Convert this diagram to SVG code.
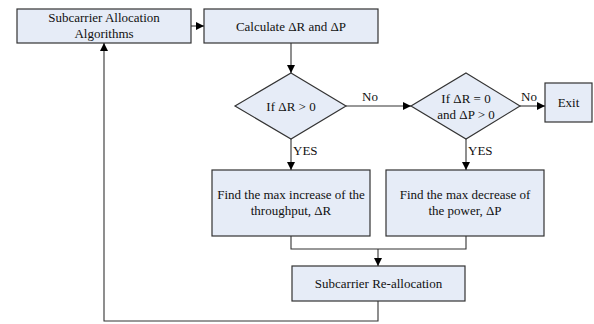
<svg xmlns="http://www.w3.org/2000/svg" width="594" height="324" viewBox="0 0 594 324">
<defs>
<marker id="ah" viewBox="0 0 10 10" refX="10" refY="5" markerWidth="8" markerHeight="8" markerUnits="userSpaceOnUse" orient="auto">
<path d="M0,0 L10,5 L0,10 z" fill="#000"/>
</marker>
</defs>
<style>
.box{fill:#e6ecf7;stroke:#333;stroke-width:1.2}
.t{font-family:"Liberation Serif","Times New Roman",serif;font-size:13px;fill:#111;text-anchor:middle}
.tl{font-family:"Liberation Serif","Times New Roman",serif;font-size:13px;fill:#111}
.c{fill:none;stroke:#333;stroke-width:1.1}
</style>
<rect width="594" height="324" fill="#fff"/>
<g id="n1"><rect class="box" x="17" y="9" width="174" height="34"/><text class="t" x="104" y="22">Subcarrier Allocation</text><text class="t" x="104" y="38">Algorithms</text></g>
<g id="n2"><rect class="box" x="204" y="9" width="174" height="34"/><text class="t" x="291" y="31">Calculate ΔR and ΔP</text></g>
<g id="d1"><polygon class="box" points="291,73 346,106 291,139 235,106"/><text class="t" x="291" y="111">If ΔR &gt; 0</text></g>
<g id="d2"><polygon class="box" points="466,73 520,106 466,139 411,106"/><text class="t" x="466" y="103">If ΔR = 0</text><text class="t" x="466" y="119">and ΔP &gt; 0</text></g>
<g id="exit"><rect class="box" x="545" y="83" width="47" height="39"/><text class="t" x="568.5" y="107">Exit</text></g>
<g id="n3"><rect class="box" x="212" y="170" width="158" height="66"/><text class="t" x="291" y="199">Find the max increase of the</text><text class="t" x="291" y="215">throughput, ΔR</text></g>
<g id="n4"><rect class="box" x="386" y="170" width="158" height="66"/><text class="t" x="465" y="199">Find the max decrease of</text><text class="t" x="465" y="215">the power, ΔP</text></g>
<g id="n5"><rect class="box" x="292" y="266" width="173" height="35"/><text class="t" x="378.5" y="288">Subcarrier Re-allocation</text></g>
<g id="connectors">
<line class="c" x1="191" y1="26" x2="204" y2="26" marker-end="url(#ah)"/>
<line class="c" x1="291" y1="43" x2="291" y2="73" marker-end="url(#ah)"/>
<line class="c" x1="346" y1="106" x2="411" y2="106" marker-end="url(#ah)"/>
<text class="tl" x="362" y="101">No</text>
<line class="c" x1="520" y1="106" x2="545" y2="106" marker-end="url(#ah)"/>
<text class="tl" x="521" y="101">No</text>
<line class="c" x1="291" y1="139" x2="291" y2="170" marker-end="url(#ah)"/>
<text class="tl" x="293" y="155">YES</text>
<line class="c" x1="466" y1="139" x2="466" y2="170" marker-end="url(#ah)"/>
<text class="tl" x="468" y="155">YES</text>
<polyline class="c" points="291,236 291,249 466,249 466,236"/>
<line class="c" x1="378" y1="249" x2="378" y2="266" marker-end="url(#ah)"/>
<polyline class="c" points="378,301 378,321 104,321 104,43" marker-end="url(#ah)"/>
</g>
</svg>
